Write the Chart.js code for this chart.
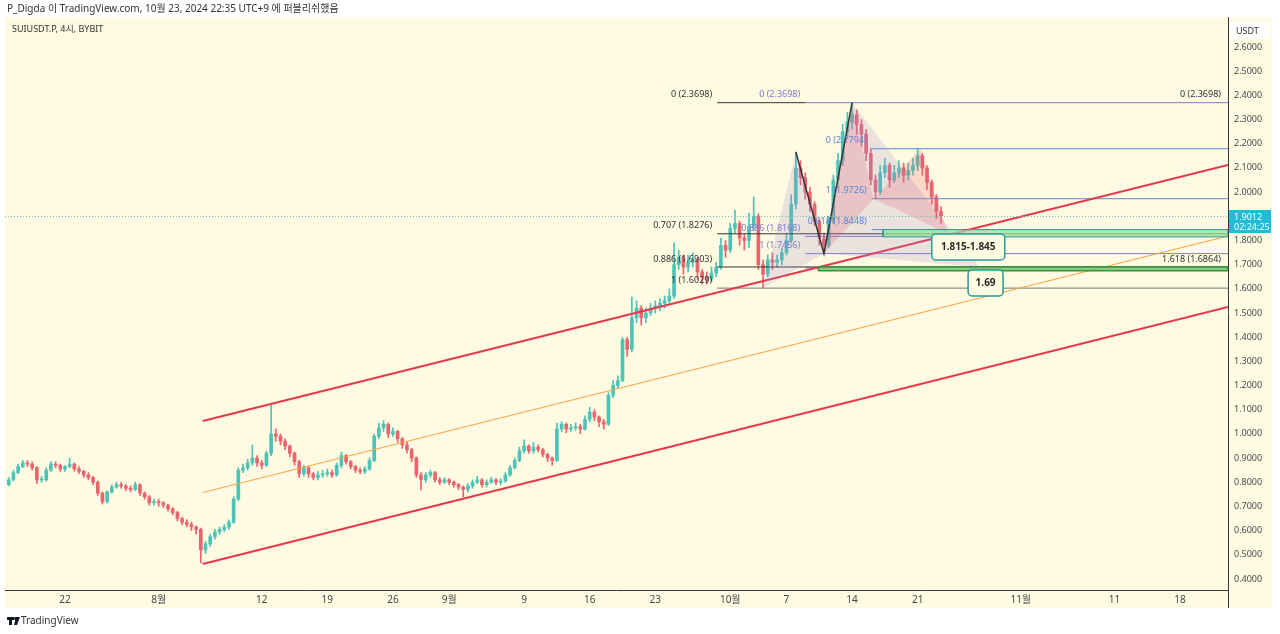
<!DOCTYPE html>
<html>
<head>
<meta charset="utf-8">
<script src="https://cdn.jsdelivr.net/npm/chart.js@4.4.0/dist/chart.umd.min.js"></script>
<style>
html, body { margin: 0; padding: 0; background: #fff; }
#chart { display: block; }
</style>
</head>
<body>
<canvas id="chart" width="1280" height="634"></canvas>
<script>
// SUIUSDT.P 12h candles (day 0 = Jul 1)
var startDay = 15;
var stepDay = 0.5;
var firstOpen = 0.79;
var closes = [
  0.81,0.84,0.865,0.88,0.875,0.86,0.81,0.81,0.85,0.875,
  0.87,0.855,0.865,0.875,0.855,0.845,0.83,0.82,0.80,0.755,
  0.72,0.76,0.78,0.79,0.785,0.775,0.77,0.79,0.755,0.74,
  0.715,0.72,0.715,0.705,0.69,0.675,0.65,0.635,0.625,0.615,
  0.605,0.52,0.545,0.575,0.595,0.605,0.615,0.635,0.73,0.85,
  0.86,0.88,0.90,0.88,0.87,0.92,1.00,0.99,0.97,0.95,
  0.92,0.885,0.835,0.86,0.835,0.82,0.83,0.835,0.84,0.83,
  0.87,0.91,0.885,0.865,0.85,0.845,0.855,0.89,0.99,1.025,
  1.04,1.00,1.01,0.98,0.955,0.935,0.90,0.83,0.81,0.83,
  0.84,0.81,0.80,0.81,0.80,0.79,0.78,0.77,0.785,0.80,
  0.81,0.79,0.80,0.81,0.80,0.805,0.83,0.86,0.89,0.93,
  0.95,0.93,0.945,0.935,0.915,0.90,0.89,1.02,1.04,1.02,
  1.025,1.03,1.02,1.06,1.09,1.07,1.05,1.04,1.16,1.20,
  1.22,1.39,1.35,1.48,1.52,1.48,1.50,1.52,1.53,1.54,
  1.55,1.57,1.70,1.73,1.69,1.71,1.72,1.67,1.65,1.64,
  1.665,1.69,1.78,1.76,1.85,1.87,1.81,1.80,1.86,1.90,
  1.70,1.66,1.72,1.71,1.72,1.75,1.80,1.95,2.10,2.06,
  2.00,1.95,1.88,1.81,1.78,1.88,2.05,2.13,2.25,2.29,
  2.32,2.28,2.24,2.16,2.05,2.00,2.08,2.11,2.05,2.08,
  2.10,2.07,2.09,2.11,2.15,2.10,2.04,1.98,1.92,1.9012
];
var highs = [
  0.82,0.85,0.875,0.89,0.89,0.885,0.865,0.825,0.86,0.885,
  0.885,0.875,0.87,0.90,0.88,0.865,0.85,0.84,0.825,0.805,
  0.76,0.765,0.79,0.80,0.80,0.79,0.785,0.80,0.795,0.76,
  0.745,0.73,0.73,0.72,0.71,0.695,0.68,0.655,0.645,0.635,
  0.62,0.61,0.555,0.585,0.605,0.615,0.625,0.645,0.74,0.86,
  0.875,0.895,0.954,0.91,0.89,0.93,1.12,1.02,1.0,0.98,
  0.955,0.925,0.89,0.87,0.865,0.84,0.845,0.85,0.855,0.85,
  0.88,0.925,0.915,0.89,0.87,0.86,0.865,0.90,1.0,1.045,
  1.055,1.045,1.025,1.015,0.985,0.965,0.94,0.905,0.84,0.84,
  0.85,0.845,0.82,0.82,0.815,0.805,0.795,0.785,0.795,0.81,
  0.825,0.815,0.81,0.82,0.815,0.815,0.84,0.87,0.90,0.945,
  0.975,0.955,0.965,0.955,0.94,0.92,0.905,1.045,1.05,1.045,
  1.04,1.045,1.04,1.075,1.11,1.10,1.075,1.06,1.17,1.22,
  1.24,1.40,1.40,1.566,1.55,1.53,1.52,1.54,1.55,1.56,
  1.57,1.60,1.79,1.76,1.74,1.74,1.75,1.73,1.68,1.67,
  1.69,1.71,1.81,1.80,1.87,1.926,1.88,1.83,1.913,1.98,
  1.91,1.72,1.74,1.75,1.74,1.77,1.83,1.99,2.166,2.13,
  2.08,2.02,1.96,1.89,1.83,1.90,2.07,2.16,2.28,2.33,
  2.3698,2.34,2.30,2.26,2.18,2.07,2.11,2.14,2.12,2.11,
  2.13,2.12,2.12,2.14,2.1794,2.16,2.11,2.05,1.99,1.94
];
var lows = [
  0.785,0.805,0.835,0.86,0.865,0.85,0.795,0.80,0.805,0.845,
  0.86,0.845,0.845,0.86,0.845,0.835,0.82,0.81,0.79,0.745,
  0.71,0.715,0.755,0.775,0.775,0.765,0.76,0.765,0.745,0.73,
  0.705,0.705,0.70,0.695,0.68,0.665,0.64,0.625,0.615,0.60,
  0.585,0.466,0.505,0.535,0.565,0.585,0.595,0.605,0.63,0.725,
  0.84,0.85,0.87,0.865,0.855,0.865,0.91,0.97,0.955,0.935,
  0.905,0.87,0.82,0.825,0.82,0.81,0.81,0.82,0.825,0.82,
  0.825,0.86,0.875,0.855,0.84,0.835,0.835,0.85,0.885,0.98,
  1.01,0.985,0.99,0.965,0.94,0.92,0.885,0.82,0.768,0.80,
  0.82,0.80,0.79,0.795,0.79,0.78,0.77,0.74,0.76,0.775,
  0.795,0.78,0.78,0.795,0.79,0.79,0.80,0.825,0.855,0.885,
  0.92,0.92,0.92,0.925,0.905,0.885,0.87,0.885,1.01,1.005,
  1.01,1.015,1.0,1.015,1.05,1.055,1.03,1.02,1.035,1.15,
  1.19,1.215,1.32,1.34,1.46,1.45,1.46,1.49,1.50,1.51,
  1.52,1.54,1.56,1.68,1.66,1.67,1.69,1.64,1.62,1.62,
  1.63,1.65,1.68,1.73,1.75,1.83,1.78,1.76,1.77,1.84,
  1.68,1.603,1.65,1.68,1.69,1.70,1.74,1.79,1.93,2.03,
  1.97,1.92,1.86,1.78,1.745,1.77,1.87,2.03,2.11,2.22,
  2.26,2.24,2.19,2.13,2.03,1.9726,1.99,2.06,2.02,2.04,
  2.06,2.04,2.05,2.07,2.09,2.07,2.01,1.95,1.89,1.87
];
var lastPrice = 1.9012;
var lastCountdown = '02:24:25';

var xTickDays = [21, 31, 42, 49, 56, 62, 70, 77, 84, 92, 98, 105, 112, 123, 133, 140];
var xTickLabels = ['22', '8월', '12', '19', '26', '9월', '9', '16', '23', '10월', '7', '14', '21', '11월', '11', '18'];
var yTicks = [0.4, 0.5, 0.6, 0.7, 0.8, 0.9, 1.0, 1.1, 1.2, 1.3, 1.4, 1.5, 1.6, 1.7, 1.8, 1.9, 2.0, 2.1, 2.2, 2.3, 2.4, 2.5, 2.6];

// channel
var channelDays = [35.7, 145.12];
var channelUpper = [1.053, 2.112];
var channelMid = [0.7575, 1.8185];
var channelLower = [0.462, 1.525];

// fib retracements
var fibBlackStart = 90.6;
var fibBlackRatios = ['0', '0.707', '0.886', '1'];
var fibBlackPrices = [2.3698, 1.8276, 1.6903, 1.6029];
var fibPurpleStart = 100;
var fibPurpleRatios = ['0', '0.886', '1', '1.618'];
var fibPurplePrices = [2.3698, 1.8168, 1.7456, 1.6864];
var fibBlueStart = 107.1;
var fibBlueRatios = ['0', '1', '0.618'];
var fibBluePrices = [2.1794, 1.9726, 1.8448];

// harmonic patterns (X, A, B, C, D)
var patternOneDays = [95.5, 99, 102, 105, 118.6];
var patternOnePrices = [1.6029, 2.166, 1.7456, 2.3698, 1.69];
var patternTwoDays = [102, 105, 107.3, 112.3, 115.2];
var patternTwoPrices = [1.7456, 2.3698, 1.9726, 2.1794, 1.83];

// target zones
var zoneOneDays = [108.3, 145.12];
var zoneOnePrices = [1.815, 1.845];
var zoneTwoDays = [101.4, 145.12];
var zoneTwoPrices = [1.675, 1.691];
var targetTexts = ['1.815-1.845', '1.69'];
var targetDays = [117.4, 119.25];
var targetPrices = [1.773, 1.624];

var cream = '#fffae2';
var upColor = '#4cc3b7';
var downColor = '#ea6470';
var fontFamily = "'Noto Sans', 'Noto Sans CJK KR', sans-serif";

var wicks = [], bodies = [], colors = [];
var prev = firstOpen;
for (var i = 0; i < closes.length; i++) {
    var d = startDay + i * stepDay;
    wicks.push({x: d, y: [lows[i], highs[i]]});
    bodies.push({x: d, y: [prev, closes[i]]});
    colors.push(closes[i] >= prev ? upColor : downColor);
    prev = closes[i];
}

function pts(days, prices) {
    return days.map(function(d, k) { return {x: d, y: prices[k]}; });
}
function line(data, color, width, order, extra) {
    var ds = {type: 'line', data: data, borderColor: color, borderWidth: width, pointRadius: 0,
              tension: 0, fill: false, order: order};
    for (var k in extra) ds[k] = extra[k];
    return ds;
}
function tri(days, prices, a, b, c) {
    return pts([days[a], days[b], days[c], days[a]], [prices[a], prices[b], prices[c], prices[a]]);
}
function rect(days, prices) {
    return pts([days[0], days[1], days[1], days[0], days[0]], [prices[0], prices[0], prices[1], prices[1], prices[0]]);
}

var datasets = [
    {type: 'bar', data: wicks, backgroundColor: colors, barThickness: 1, grouped: false, order: 20},
    {type: 'bar', data: bodies, backgroundColor: colors, barThickness: 3, grouped: false, minBarLength: 1, order: 19}
];

// channel lines
datasets.push(line(pts(channelDays, channelUpper), '#e8374c', 2, 6));
datasets.push(line(pts(channelDays, channelLower), '#e8374c', 2, 6));
datasets.push(line(pts(channelDays, channelMid), '#f3a640', 1, 6));

// fib lines
fibBlackPrices.forEach(function(p, k) {
    var endDay = k === 0 ? fibPurpleStart : 145.12;
    datasets.push(line(pts([fibBlackStart, endDay], [p, p]), k === 3 ? '#777777' : '#333333', 1, 8));
});
fibPurplePrices.forEach(function(p, k) {
    var endDay = k === 1 ? zoneOneDays[0] : 145.12;
    datasets.push(line(pts([fibPurpleStart, endDay], [p, p]), '#7f7bd0', 1, 8));
});
fibBluePrices.forEach(function(p) {
    datasets.push(line(pts([fibBlueStart, 145.12], [p, p]), '#5a86da', 1, 8));
});

// harmonic triangles
datasets.push(line(tri(patternOneDays, patternOnePrices, 0, 1, 2), 'rgba(0,0,0,0)', 0, 5,
    {fill: 'shape', backgroundColor: 'rgba(160,140,205,0.22)'}));
datasets.push(line(tri(patternOneDays, patternOnePrices, 2, 3, 4), 'rgba(0,0,0,0)', 0, 5,
    {fill: 'shape', backgroundColor: 'rgba(160,140,205,0.22)'}));
datasets.push(line(tri(patternTwoDays, patternTwoPrices, 0, 1, 2), 'rgba(0,0,0,0)', 0, 4,
    {fill: 'shape', backgroundColor: 'rgba(236,90,110,0.22)'}));
datasets.push(line(tri(patternTwoDays, patternTwoPrices, 2, 3, 4), 'rgba(0,0,0,0)', 0, 4,
    {fill: 'shape', backgroundColor: 'rgba(236,90,110,0.22)'}));
datasets.push(line(pts(patternOneDays.slice(1, 4), patternOnePrices.slice(1, 4)), '#333333', 1.5, 3));

// target zones
datasets.push(line(rect(zoneOneDays, zoneOnePrices), '#2a9d96', 1, 2,
    {fill: 'shape', backgroundColor: 'rgba(150,225,150,0.75)'}));
datasets.push(line(rect(zoneTwoDays, zoneTwoPrices), '#3a8f3e', 1.5, 2,
    {fill: 'shape', backgroundColor: 'rgba(110,200,105,0.8)'}));

var backdrop = {
    id: 'backdrop',
    beforeDraw: function(chart) {
        var c = chart.ctx;
        c.save();
        c.fillStyle = '#ffffff';
        c.fillRect(0, 0, chart.width, chart.height);
        c.fillStyle = cream;
        c.fillRect(5, 17, 1267, 591);
        c.restore();
    }
};

function text(c, s, x, y, color, align, font) {
    c.font = font || ('9px ' + fontFamily);
    c.fillStyle = color;
    c.textAlign = align || 'left';
    c.textBaseline = 'middle';
    c.fillText(s, x, y);
}
function roundBox(c, x, y, w, h, r) {
    c.beginPath();
    c.moveTo(x + r, y);
    c.arcTo(x + w, y, x + w, y + h, r);
    c.arcTo(x + w, y + h, x, y + h, r);
    c.arcTo(x, y + h, x, y, r);
    c.arcTo(x, y, x + w, y, r);
    c.closePath();
}

var overlay = {
    id: 'overlay',
    afterDatasetsDraw: function(chart) {
        var c = chart.ctx, xs = chart.scales.x, ys = chart.scales.y, a = chart.chartArea;
        function X(d) { return xs.getPixelForValue(d); }
        function Y(p) { return ys.getPixelForValue(p); }
        c.save();

        // last price dotted line
        var ly = Math.round(Y(lastPrice)) + 0.5;
        c.strokeStyle = '#6fbdbd';
        c.lineWidth = 1;
        c.setLineDash([1, 2]);
        c.beginPath(); c.moveTo(a.left, ly); c.lineTo(a.right, ly); c.stroke();
        c.setLineDash([]);

        // fib labels
        fibBlackPrices.forEach(function(p, k) {
            text(c, fibBlackRatios[k] + ' (' + p.toFixed(4) + ')', X(fibBlackStart) - 5, Y(p) - 8, '#333333', 'right');
        });
        fibPurplePrices.forEach(function(p, k) {
            if (k === 3) return;
            text(c, fibPurpleRatios[k] + ' (' + p.toFixed(4) + ')', X(fibPurpleStart) - 5, Y(p) - 8, '#7f7bd0', 'right');
        });
        fibBluePrices.forEach(function(p, k) {
            text(c, fibBlueRatios[k] + ' (' + p.toFixed(4) + ')', X(fibBlueStart) - 5, Y(p) - 8, '#5a86da', 'right');
        });
        text(c, '0 (' + fibPurplePrices[0].toFixed(4) + ')', a.right - 7, Y(fibPurplePrices[0]) - 8, '#333333', 'right');
        text(c, fibPurpleRatios[3] + ' (' + fibPurplePrices[3].toFixed(4) + ')', a.right - 7, Y(fibPurplePrices[3]) - 8, '#333333', 'right');

        // target boxes
        var sizes = [[73, 26], [35, 26]];
        targetTexts.forEach(function(s, k) {
            var cx = X(targetDays[k]), cy = Y(targetPrices[k]);
            var w = sizes[k][0], h = sizes[k][1];
            roundBox(c, cx - w / 2, cy - h / 2, w, h, 4);
            c.fillStyle = cream;
            c.fill();
            c.strokeStyle = '#2a9a98';
            c.lineWidth = 1.5;
            c.stroke();
            text(c, s, cx, cy + 0.5, '#2b2b2b', 'center', 'bold 10px ' + fontFamily);
        });
        c.restore();
    },
    afterDraw: function(chart) {
        var c = chart.ctx, a = chart.chartArea, ys = chart.scales.y;
        c.save();
        // pane borders
        c.strokeStyle = '#3a3a3a';
        c.lineWidth = 1;
        c.beginPath();
        c.moveTo(a.left, a.bottom + 0.5); c.lineTo(a.right, a.bottom + 0.5);
        c.moveTo(a.right + 0.5, 17); c.lineTo(a.right + 0.5, 608);
        c.stroke();

        // currency tag
        c.fillStyle = '#ffffff';
        c.fillRect(a.right + 2, 22, 40, 17);
        text(c, 'USDT', a.right + 8, 31, '#333333', 'left');

        // last price tag
        var ly = Math.round(ys.getPixelForValue(lastPrice));
        c.fillStyle = '#22bcd6';
        c.fillRect(a.right + 1, ly - 6, 42, 23);
        text(c, lastPrice.toFixed(4), a.right + 6, ly + 1, '#ffffff', 'left');
        text(c, lastCountdown, a.right + 6, ly + 11, '#ffffff', 'left');

        // header and footer
        text(c, 'P_Digda 이 TradingView.com, 10월 23, 2024 22:35 UTC+9 에 퍼블리쉬했음', 7, 9, '#333333', 'left', '10px ' + fontFamily);
        text(c, 'SUIUSDT.P, 4시, BYBIT', 12, 29, '#333333', 'left', '9px ' + fontFamily);
        c.fillStyle = '#131722';
        c.fillRect(7, 617, 7, 3);
        c.fillRect(9, 617, 3, 8);
        c.beginPath(); c.arc(15.5, 618.5, 1.5, 0, Math.PI * 2); c.fill();
        c.beginPath(); c.moveTo(16, 617); c.lineTo(20, 617); c.lineTo(17, 625); c.lineTo(14, 625); c.closePath(); c.fill();
        text(c, 'TradingView', 21, 621, '#333333', 'left', '10px ' + fontFamily);
        c.restore();
    }
};

var ctx = document.getElementById('chart').getContext('2d');
var chartData = {
    type: 'bar',
    data: {datasets: datasets},
    options: {
        responsive: false,
        animation: false,
        events: [],
        layout: {padding: {left: 5, top: 18, right: 0, bottom: 26}},
        plugins: {legend: {display: false}, tooltip: {enabled: false}},
        scales: {
            x: {
                type: 'linear', min: 14.6, max: 145.12, offset: false,
                grid: {display: false, drawTicks: false}, border: {display: false},
                afterBuildTicks: function(s) { s.ticks = xTickDays.map(function(v) { return {value: v}; }); },
                afterFit: function(s) { s.height = 18; },
                ticks: {
                    autoSkip: false, maxRotation: 0, padding: 4, color: '#444444',
                    font: {size: 10, family: fontFamily},
                    callback: function(v) { var k = xTickDays.indexOf(v); return k < 0 ? '' : xTickLabels[k]; }
                }
            },
            y: {
                type: 'linear', position: 'right', min: 0.3544, max: 2.72,
                grid: {display: false, drawTicks: false}, border: {display: false},
                afterBuildTicks: function(s) { s.ticks = yTicks.map(function(v) { return {value: v}; }); },
                afterFit: function(s) { s.width = 52; },
                ticks: {
                    padding: 6, color: '#4a4a4a', font: {size: 9, family: fontFamily},
                    callback: function(v) { return Number(v).toFixed(4); }
                }
            }
        }
    },
    plugins: [backdrop, overlay]
};

var myChart = new Chart(ctx, chartData);
</script>
</body>
</html>
